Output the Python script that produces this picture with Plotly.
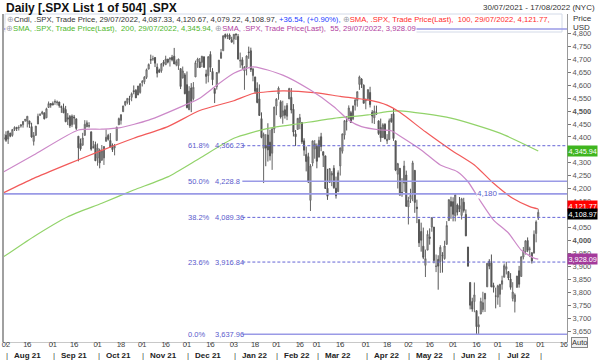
import pandas as pd
import plotly.graph_objects as go

# ---------------- data ----------------
holidays = ["2021-09-06", "2021-11-25", "2021-12-24", "2022-01-17", "2022-02-21",
            "2022-04-15", "2022-05-30", "2022-06-20", "2022-07-04"]

opens = [4395,
 4407,4392,4415,4406,4429,4437,4436,4442,4447,4464,4461,4462,4440,4383,4406,4450,4484,4490,4493,4474,4514,4529,
 4529,4534,4532,4535,4518,4513,4506,4474,4479,4447,4477,4470,4403,4375,4368,4406,4439,4443,4420,4362,4371,
 4318,4349,4310,4319,4383,4406,4386,4368,4358,4386,4447,4464,4498,4524,4533,4548,4553,4579,4580,4562,4572,
 4610,4613,4630,4662,4699,4701,4707,4670,4659,4656,4689,4679,4701,4700,4708,4712,4679,4675,4664,4628,4640,
 4602,4505,4589,4548,4632,4690,4690,4688,4710,4643,4637,4719,4653,4587,4594,4650,4704,4733,4796,4788,4794,4776,
 4778,4804,4788,4693,4698,4655,4670,4728,4733,4637,4632,4588,4547,4471,4356,4367,4408,4380,4337,4431,
 4519,4566,4536,4482,4505,4480,4547,4553,4507,4412,4429,4456,4456,4385,4332,4324,4155,4299,4354,
 4364,4322,4401,4343,4327,4202,4224,4253,4279,4202,4189,4288,4345,4407,4462,4470,4494,4470,4523,4541,4603,4624,4600,
 4540,4548,4572,4495,4474,4494,4462,4437,4398,4449,4385,4390,4472,4490,4385,4256,4279,4186,4222,4253,
 4130,4159,4181,4271,4129,4081,4035,3978,3904,3963,4014,4052,4052,3900,3927,3919,3943,3930,3985,4077,4151,
 4150,4096,4137,4135,4097,4148,4101,3975,3838,3764,3764,3729,3666,3716,3733,3774,3821,3920,3913,3826,3786,
 3781,3792,3831,3858,3889,3880,3851,3776,3764,3819,3883,3861,3936,3956,4000,3966,3953,3951,4027,4087.33]
highs = [4412,
 4422,4424,4416,4430,4441,4439,4445,4449,4461,4468,4480,4462,4455,4419,4442,4490,4492,4501,4495,4513,4537,4531,
 4537,4545,4541,4536,4521,4529,4520,4492,4485,4487,4485,4471,4403,4394,4416,4465,4464,4457,4420,4385,4382,
 4375,4355,4369,4365,4429,4412,4415,4375,4373,4439,4475,4487,4520,4540,4549,4559,4572,4599,4585,4597,4608,
 4620,4635,4664,4684,4718,4714,4709,4684,4664,4684,4697,4714,4701,4708,4717,4744,4699,4702,4664,4672,4647,
 4653,4596,4608,4612,4695,4706,4705,4713,4710,4660,4712,4731,4666,4587,4651,4697,4740,4792,4808,4805,4808,4787,
 4797,4819,4798,4726,4708,4673,4715,4749,4745,4666,4632,4611,4603,4495,4417,4411,4453,4428,4432,4516,
 4550,4595,4542,4540,4521,4531,4590,4589,4527,4427,4473,4489,4456,4395,4363,4339,4295,4385,4388,
 4375,4401,4416,4344,4327,4277,4277,4268,4291,4247,4271,4358,4412,4465,4481,4522,4501,4520,4546,4575,4637,4627,4603,
 4548,4583,4594,4504,4521,4521,4464,4471,4453,4453,4411,4471,4489,4512,4386,4300,4279,4241,4308,4270,
 4169,4200,4308,4271,4158,4081,4069,4050,3965,4039,4047,4090,4052,3946,3943,3982,3955,3999,4075,4158,4169,
 4167,4177,4143,4168,4165,4165,4120,3975,3838,3779,3838,3729,3707,3779,3802,3797,3913,3928,3946,3837,3818,
 3829,3832,3864,3911,3918,3880,3874,3839,3796,3863,3902,3939,3975,4000,4012,3976,3954,4039,4078,4120.67]
lows = [4387,
 4381,4373,4399,4401,4423,4423,4425,4436,4436,4458,4437,4435,4397,4367,4406,4450,4482,4486,4468,4474,4513,4513,
 4522,4524,4522,4513,4493,4493,4457,4446,4435,4438,4448,4427,4306,4347,4367,4406,4438,4436,4347,4355,4307,
 4289,4279,4309,4292,4383,4386,4360,4342,4329,4386,4447,4448,4496,4519,4526,4524,4538,4565,4551,4562,4567,
 4595,4604,4624,4662,4682,4694,4670,4630,4649,4648,4672,4679,4684,4672,4692,4683,4673,4659,4585,4626,4565,
 4511,4505,4496,4541,4632,4667,4667,4670,4667,4606,4611,4651,4600,4531,4583,4645,4703,4733,4780,4778,4775,4766,
 4758,4775,4699,4667,4663,4582,4638,4702,4651,4615,4568,4530,4482,4395,4222,4287,4305,4309,4273,4415,
 4484,4544,4471,4451,4471,4465,4547,4491,4402,4365,4429,4430,4373,4327,4267,4222,4114,4287,4316,
 4279,4322,4345,4284,4199,4157,4224,4210,4200,4162,4187,4251,4336,4390,4425,4469,4455,4465,4502,4517,4582,4589,4530,
 4507,4540,4514,4453,4450,4487,4408,4381,4398,4392,4373,4390,4455,4385,4268,4201,4175,4169,4188,4131,
 4062,4145,4152,4107,4067,3975,3957,3928,3859,3963,3984,4034,3912,3878,3810,3875,3876,3926,3985,4077,4084,
 4074,4074,4097,4110,4081,4108,4017,3900,3734,3725,3723,3639,3637,3716,3723,3724,3821,3889,3820,3799,3738,
 3752,3743,3810,3858,3869,3847,3810,3765,3722,3818,3818,3861,3927,3946,3955,3936,3911,3951,3993,4079.22]
closes = [4395,
 4387,4423,4403,4429,4437,4433,4436,4447,4460,4468,4480,4449,4400,4406,4442,4480,4486,4496,4470,4509,4529,4523,
 4524,4537,4535,4521,4514,4493,4459,4469,4443,4481,4474,4433,4358,4354,4396,4449,4455,4443,4353,4360,4308,
 4357,4300,4346,4363,4399,4391,4361,4351,4364,4438,4471,4486,4520,4537,4549,4545,4567,4575,4551,4597,4605,
 4614,4631,4660,4680,4697,4702,4685,4646,4650,4683,4683,4701,4689,4704,4698,4682,4691,4701,4595,4655,4567,
 4513,4577,4538,4592,4687,4701,4668,4712,4669,4634,4710,4669,4621,4568,4649,4697,4726,4791,4786,4793,4778,4766,
 4797,4794,4701,4696,4677,4671,4713,4726,4660,4663,4577,4533,4483,4398,4410,4357,4350,4327,4432,4516,
 4546,4589,4477,4501,4484,4522,4587,4504,4419,4401,4472,4475,4381,4349,4305,4226,4288,4385,4374,
 4306,4387,4363,4329,4201,4171,4278,4260,4204,4173,4262,4358,4412,4463,4461,4512,4456,4520,4543,4575,4632,4602,4530,
 4546,4583,4525,4481,4500,4488,4413,4397,4447,4392,4391,4463,4459,4394,4272,4297,4175,4183,4288,4132,
 4155,4175,4300,4147,4123,3991,4001,3935,3930,4024,4008,4088,3923,3901,3901,3974,3941,3979,4058,4158,4132,
 4101,4177,4109,4121,4161,4116,4018,3901,3750,3735,3790,3667,3675,3765,3760,3796,3912,3901,3821,3819,3785,
 3825,3831,3845,3903,3899,3855,3819,3801,3790,3863,3831,3937,3960,3999,3962,3967,3921,4024,4072,4108.97]
prev_close = 4072.43

sma55_dates = ["2021-07-30", "2021-08-19", "2021-09-20", "2021-10-05", "2021-10-15", "2021-11-04",
               "2021-11-30", "2021-12-09", "2021-12-21", "2022-01-03", "2022-01-14", "2022-02-04",
               "2022-02-24", "2022-03-11", "2022-03-22", "2022-03-30", "2022-04-12", "2022-04-20",
               "2022-04-26", "2022-05-10", "2022-05-23", "2022-06-03", "2022-06-10", "2022-06-21",
               "2022-06-29", "2022-07-11", "2022-07-19", "2022-07-27", "2022-07-29"]
sma55_values = [4266, 4330, 4427, 4430, 4435, 4465, 4523, 4550, 4600, 4646, 4671, 4639, 4581, 4517,
                4465, 4440, 4427, 4424, 4404, 4350, 4292, 4266, 4227, 4150, 4079, 4029, 3963, 3932, 3928.09]

sma100_dates = ["2021-07-30", "2021-08-19", "2021-09-13", "2021-10-05", "2021-10-26", "2021-11-17",
                "2021-12-09", "2022-01-03", "2022-01-14", "2022-02-04", "2022-03-01", "2022-03-16",
                "2022-04-04", "2022-04-18", "2022-04-26", "2022-05-12", "2022-05-31", "2022-06-15",
                "2022-06-29", "2022-07-13", "2022-07-25", "2022-07-29"]
sma100_values = [4185, 4240, 4295, 4348, 4395, 4440, 4502, 4540, 4568, 4578, 4570, 4557, 4543, 4523,
                 4495, 4420, 4350, 4292, 4221, 4163, 4131, 4121.77]

sma200_dates = ["2021-07-30", "2021-08-19", "2021-09-13", "2021-10-05", "2021-10-26", "2021-11-17",
                "2021-12-09", "2022-01-03", "2022-01-26", "2022-02-16", "2022-03-11", "2022-04-04",
                "2022-04-18", "2022-04-26", "2022-05-31", "2022-07-05", "2022-07-29"]
sma200_values = [3938, 4015, 4092, 4144, 4195, 4246, 4318, 4395, 4433, 4452, 4472, 4485, 4498, 4501,
                 4473, 4415, 4345.94]

fib_pcts = ["61.8%", "50.0%", "38.2%", "23.6%", "0.0%"]
fib_levels = [4366.23, 4228.8, 4089.36, 3916.84, 3637.96]
fib_texts = ["4,366.23", "4,228.8", "4,089.36", "3,916.84", "3,637.96"]
fib_dashed = [True, False, True, True, False]
fib_start = "2022-01-07"
hlines = [4180, 4817]
hline_label = "4,180"

ytick_vals = list(range(3650, 4801, 50))
ytick_hidden = [4350, 4100]  # covered by the value tags in the reference
xtick_dates = ["2021-08-02", "2021-08-16", "2021-09-01", "2021-09-16", "2021-10-01", "2021-10-18",
               "2021-11-01", "2021-11-16", "2021-12-01", "2021-12-16", "2022-01-03", "2022-01-18",
               "2022-02-01", "2022-02-16", "2022-03-01", "2022-03-16", "2022-04-01", "2022-04-18",
               "2022-05-02", "2022-05-16", "2022-06-01", "2022-06-16", "2022-07-01", "2022-07-18",
               "2022-08-01", "2022-08-16"]
xtick_text = ["02", "16", "01", "16", "01", "18", "01", "16", "01", "16", "03", "18", "01", "16",
              "01", "16", "01", "18", "02", "16", "01", "16", "01", "18", "01", "16"]
month_starts = ["2021-08-02", "2021-09-01", "2021-10-01", "2021-11-01", "2021-12-01", "2022-01-03",
                "2022-02-01", "2022-03-01", "2022-04-01", "2022-05-02", "2022-06-01", "2022-07-01",
                "2022-08-01"]
month_labels = ["Aug 21", "Sep 21", "Oct 21", "Nov 21", "Dec 21", "Jan 22", "Feb 22", "Mar 22",
                "Apr 22", "May 22", "Jun 22", "Jul 22", ""]

# ---------------- build ----------------
dates = [d for d in pd.bdate_range("2021-07-30", "2022-07-29") if d.strftime("%Y-%m-%d") not in holidays]
n = min(len(dates), len(opens), len(highs), len(lows), len(closes))
dates = dates[-n:]
o, h, l, c = opens[-n:], highs[-n:], lows[-n:], closes[-n:]

FONT = "Liberation Sans, Arial, sans-serif"
W, H = 600, 360
ML, MR, MT, MB = 3, 33, 14, 18
PW, PH = W - ML - MR, H - MT - MB


def px(xp):
    return (xp - ML) / PW


def py(yp):
    return (H - MB - yp) / PH


RED, GREEN, PURPLE = "#f25a5a", "#92d36a", "#cc88c8"
FIB_SOLID, FIB_DASH, FIB_TEXT = "#9a9ae6", "#6565d6", "#5a5acc"

fig = go.Figure()
fig.add_trace(go.Scatter(x=sma200_dates, y=sma200_values, mode="lines", line=dict(color=GREEN, width=1.2, shape="spline", smoothing=0.6), hoverinfo="skip"))
fig.add_trace(go.Scatter(x=sma100_dates, y=sma100_values, mode="lines", line=dict(color=RED, width=1.2, shape="spline", smoothing=0.6), hoverinfo="skip"))
fig.add_trace(go.Scatter(x=sma55_dates, y=sma55_values, mode="lines", line=dict(color=PURPLE, width=1.2, shape="spline", smoothing=0.6), hoverinfo="skip"))
fig.add_trace(go.Candlestick(
    x=dates, open=o, high=h, low=l, close=c,
    increasing=dict(line=dict(color="#666666", width=1), fillcolor="#c4c4c4"),
    decreasing=dict(line=dict(color="#555555", width=1), fillcolor="#5a5a5a"),
    whiskerwidth=0, hoverinfo="skip"))

shapes = []
annotations = []

# legend box
shapes.append(dict(type="rect", xref="paper", yref="paper", x0=px(5), x1=px(562), y0=py(32), y1=py(14),
                   fillcolor="white", line=dict(color="#d3dae8", width=1), layer="above"))
# full-width horizontal lines
for v in hlines:
    shapes.append(dict(type="line", xref="paper", yref="y", x0=0, x1=1, y0=v, y1=v,
                       line=dict(color=FIB_SOLID, width=1.6), layer="above"))
annotations.append(dict(x="2022-06-24", y=hlines[0], xref="x", yref="y", text=hline_label, showarrow=False,
                        font=dict(size=8, color=FIB_TEXT, family=FONT), bgcolor="white", borderpad=0))
# fib lines
x_end = "2022-08-17 12:00"
for pct, lev, txt, dsh in zip(fib_pcts, fib_levels, fib_texts, fib_dashed):
    shapes.append(dict(type="line", xref="x", yref="y", x0=fib_start, x1=x_end, y0=lev, y1=lev,
                       line=dict(color=FIB_DASH if dsh else FIB_SOLID, width=1 if dsh else 1.6,
                                 dash="3px,2px" if dsh else "solid"), layer="above"))
    annotations.append(dict(x=fib_start, y=lev, xref="x", yref="y", text=pct, showarrow=False,
                            xanchor="left", xshift=-56, font=dict(size=7.5, color=FIB_TEXT, family=FONT)))
    annotations.append(dict(x=fib_start, y=lev, xref="x", yref="y", text=txt,
                            showarrow=False, xanchor="left", xshift=-29, font=dict(size=7.5, color=FIB_TEXT, family=FONT)))

# legend text
icon = "<span style='color:#9aa0aa'>⊕</span>"
chg = closes[-1] - prev_close
row1 = (f"{icon}Cndl, .SPX, Trade Price, 29/07/2022, {opens[-1]:,.2f}, {highs[-1]:,.2f}, {lows[-1]:,.2f}, {closes[-1]:,.2f}, "
        f"<span style='color:#2340ff'>+{chg:.2f}, (+{chg / prev_close * 100:.2f}%),</span> {icon}"
        f"<span style='color:#ff2b2b'>SMA, .SPX, Trade Price(Last),  100, 29/07/2022, {sma100_values[-1]:,.2f},</span>")
row2 = (f"{icon}<span style='color:#4cb52a'>SMA, .SPX, Trade Price(Last),  200, 29/07/2022, {sma200_values[-1]:,.2f},</span> {icon}"
        f"<span style='color:#b0409e'>SMA, .SPX, Trade Price(Last),  55, 29/07/2022, {sma55_values[-1]:,.2f}</span>")
annotations.append(dict(x=px(5), y=py(19.5), xref="paper", yref="paper", text=row1, showarrow=False,
                        xanchor="left", yanchor="middle", font=dict(size=7.7, color="#333", family=FONT)))
annotations.append(dict(x=px(5), y=py(28.5), xref="paper", yref="paper", text=row2, showarrow=False,
                        xanchor="left", yanchor="middle", bgcolor="white", borderpad=0,
                        font=dict(size=7.7, color="#333", family=FONT)))

# title and header texts
annotations.append(dict(x=px(4), y=py(8), xref="paper", yref="paper", text="<b>Daily [.SPX List 1 of 504] .SPX</b>",
                        showarrow=False, xanchor="left", yanchor="middle", font=dict(size=12, color="#111", family=FONT)))
annotations.append(dict(x=px(597), y=py(7), xref="paper", yref="paper", text="30/07/2021 - 17/08/2022 (NYC)",
                        showarrow=False, xanchor="right", yanchor="middle", font=dict(size=8, color="#333", family=FONT)))
for t, yy in (("Price", 18), ("USD", 27)):
    annotations.append(dict(x=px(571), y=py(yy), xref="paper", yref="paper", text=t, showarrow=False,
                            xanchor="left", yanchor="middle", font=dict(size=8, color="#333", family=FONT)))

# right side value labels
val_labels = [(sma200_values[-1], "#3fb51f", 0), (sma100_values[-1], "#ff0000", 3),
              (closes[-1], "#000000", -2), (sma55_values[-1], "#a33a9b", 0)]
for v, col, sh in val_labels:
    annotations.append(dict(x=1, y=v, xref="paper", yref="y", text=f"{v:,.2f}", showarrow=False,
                            xanchor="left", yanchor="middle", yshift=sh, bgcolor=col, borderpad=0.5,
                            font=dict(size=7.3, color="white", family=FONT)))

# month labels
for d, lab in zip(month_starts, month_labels):
    annotations.append(dict(x=d, y=py(355), xref="x", yref="paper", text="|", showarrow=False, xshift=1,
                            yanchor="middle", font=dict(size=8, color="#444", family=FONT)))
    if lab:
        annotations.append(dict(x=d, y=py(355), xref="x", yref="paper", text=f"<b>{lab}</b>", showarrow=False,
                                xshift=21, yanchor="middle", font=dict(size=8, color="#222", family=FONT)))

annotations.append(dict(x=px(571), y=py(342), xref="paper", yref="paper", text="Auto", showarrow=False,
                        xanchor="left", yanchor="middle", bgcolor="#f2f2f2", bordercolor="#888", borderwidth=1,
                        borderpad=0, font=dict(size=7.5, color="#333", family=FONT)))

# left border
shapes.append(dict(type="line", xref="paper", yref="paper", x0=0, x1=0, y0=0, y1=1,
                   line=dict(color="#a0a0a0", width=2), layer="above"))

ytext = ["" if v in ytick_hidden else (f"<b>{v:,}</b>" if v in (4000, 4500) else f"{v:,}") for v in ytick_vals]

fig.update_layout(
    width=W, height=H, margin=dict(l=ML, r=MR, t=MT, b=MB),
    paper_bgcolor="white", plot_bgcolor="white", showlegend=False,
    font=dict(family=FONT, size=8, color="#444"),
    shapes=shapes, annotations=annotations,
    xaxis=dict(type="date", range=["2021-07-29 14:00", x_end], rangeslider=dict(visible=False),
               rangebreaks=[dict(bounds=["sat", "mon"]), dict(values=holidays)],
               tickvals=xtick_dates, ticktext=xtick_text, ticks="outside", ticklen=2, tickcolor="#999",
               ticklabelstandoff=-7,
               tickfont=dict(size=7.5, color="#444", family=FONT), showgrid=False, zeroline=False,
               showline=True, linecolor="#c8c8c8", linewidth=1, fixedrange=True),
    yaxis=dict(side="right", range=[3608, 4875], tickvals=ytick_vals, ticktext=ytext, ticks="outside",
               ticklen=3, tickcolor="#777", tickfont=dict(size=7.5, color="#555", family=FONT),
               showgrid=False, zeroline=False, showline=True, linecolor="#999", linewidth=1, fixedrange=True),
)

fig.write_html("out.html", config={"displayModeBar": False},
               post_script="document.body.style.margin='0px';document.body.style.overflow='hidden';")
